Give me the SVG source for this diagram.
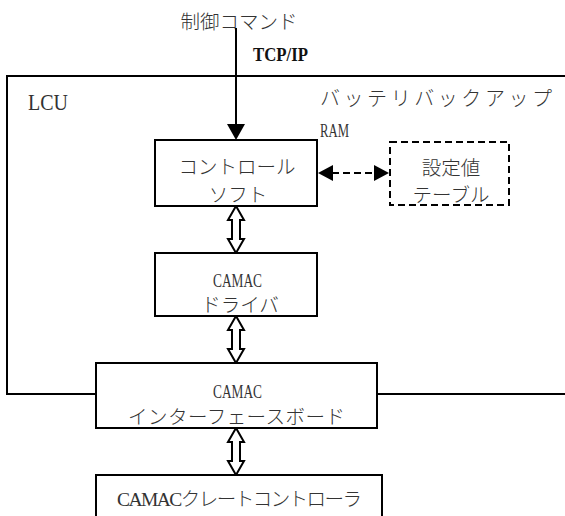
<svg xmlns="http://www.w3.org/2000/svg" width="565" height="516" viewBox="0 0 565 516">
<style>
.box{fill:#fff;stroke:#000;stroke-width:2}
.dbox{fill:#fff;stroke:#000;stroke-width:2;stroke-dasharray:7,4}
.ln{stroke:#000;stroke-width:2;fill:none}
.hol{fill:#fff;stroke:#000;stroke-width:2;stroke-linejoin:miter}
.t{font-family:"Liberation Serif","Noto Sans CJK JP",serif;font-size:19.5px;fill:#333;font-weight:300}
.m{text-anchor:middle}
</style>
<rect class="box" x="7" y="76" width="600" height="318"/>
<g id="labels">
<text class="t m" x="239" y="29">制御コマンド</text>
<text class="t" x="253" y="61" style="font-size:18px;font-weight:bold;fill:#111" textLength="55" lengthAdjust="spacingAndGlyphs">TCP/IP</text>
<text class="t" x="28" y="110" style="font-size:23px" textLength="40" lengthAdjust="spacingAndGlyphs">LCU</text>
<text class="t" x="320" y="106" style="font-size:20px" textLength="232" lengthAdjust="spacing">バッテリバックアップ</text>
<text class="t" x="320" y="137" style="font-size:18px" textLength="29" lengthAdjust="spacingAndGlyphs">RAM</text>
</g>
<g id="connectors">
<line class="ln" x1="236" y1="28" x2="236" y2="126"/>
<polygon points="227,124 245,124 236,140" fill="#000"/>
<line class="ln" x1="332" y1="173" x2="375" y2="173" stroke-dasharray="7,4"/>
<polygon points="318,173 333,165 333,181" fill="#000"/>
<polygon points="389,173 374,165 374,181" fill="#000"/>
<path class="hol" d="M236,206 L244,220 L240,220 L240,239 L244,239 L236,253 L228,239 L232,239 L232,220 L228,220 Z"/>
<path class="hol" d="M236,316 L244,330 L240,330 L240,349 L244,349 L236,363 L228,349 L232,349 L232,330 L228,330 Z"/>
<path class="hol" d="M236,428 L244,442 L240,442 L240,461 L244,461 L236,475 L228,461 L232,461 L232,442 L228,442 Z"/>
</g>
<g id="control">
<rect class="box" x="155" y="140" width="162" height="66"/>
<text class="t m" x="237" y="174">コントロール</text>
<text class="t m" x="238" y="202">ソフト</text>
</g>
<g id="table">
<rect class="dbox" x="390" y="142" width="119" height="63"/>
<text class="t m" x="451" y="175">設定値</text>
<text class="t m" x="451" y="202">テーブル</text>
</g>
<g id="driver">
<rect class="box" x="155" y="253" width="162" height="63"/>
<text class="t m" x="237.5" y="287" style="font-size:19px" textLength="49" lengthAdjust="spacingAndGlyphs">CAMAC</text>
<text class="t m" x="240" y="312">ドライバ</text>
</g>
<g id="interface">
<rect class="box" x="96" y="363" width="281" height="65"/>
<text class="t m" x="237.5" y="398" style="font-size:19px" textLength="49" lengthAdjust="spacingAndGlyphs">CAMAC</text>
<text class="t m" x="236.5" y="424" textLength="217" lengthAdjust="spacing">インターフェースボード</text>
</g>
<g id="crate">
<rect class="box" x="96" y="475" width="286" height="50"/>
<text class="t" x="117" y="506" textLength="245" lengthAdjust="spacing">CAMACクレートコントローラ</text>
</g>
</svg>
